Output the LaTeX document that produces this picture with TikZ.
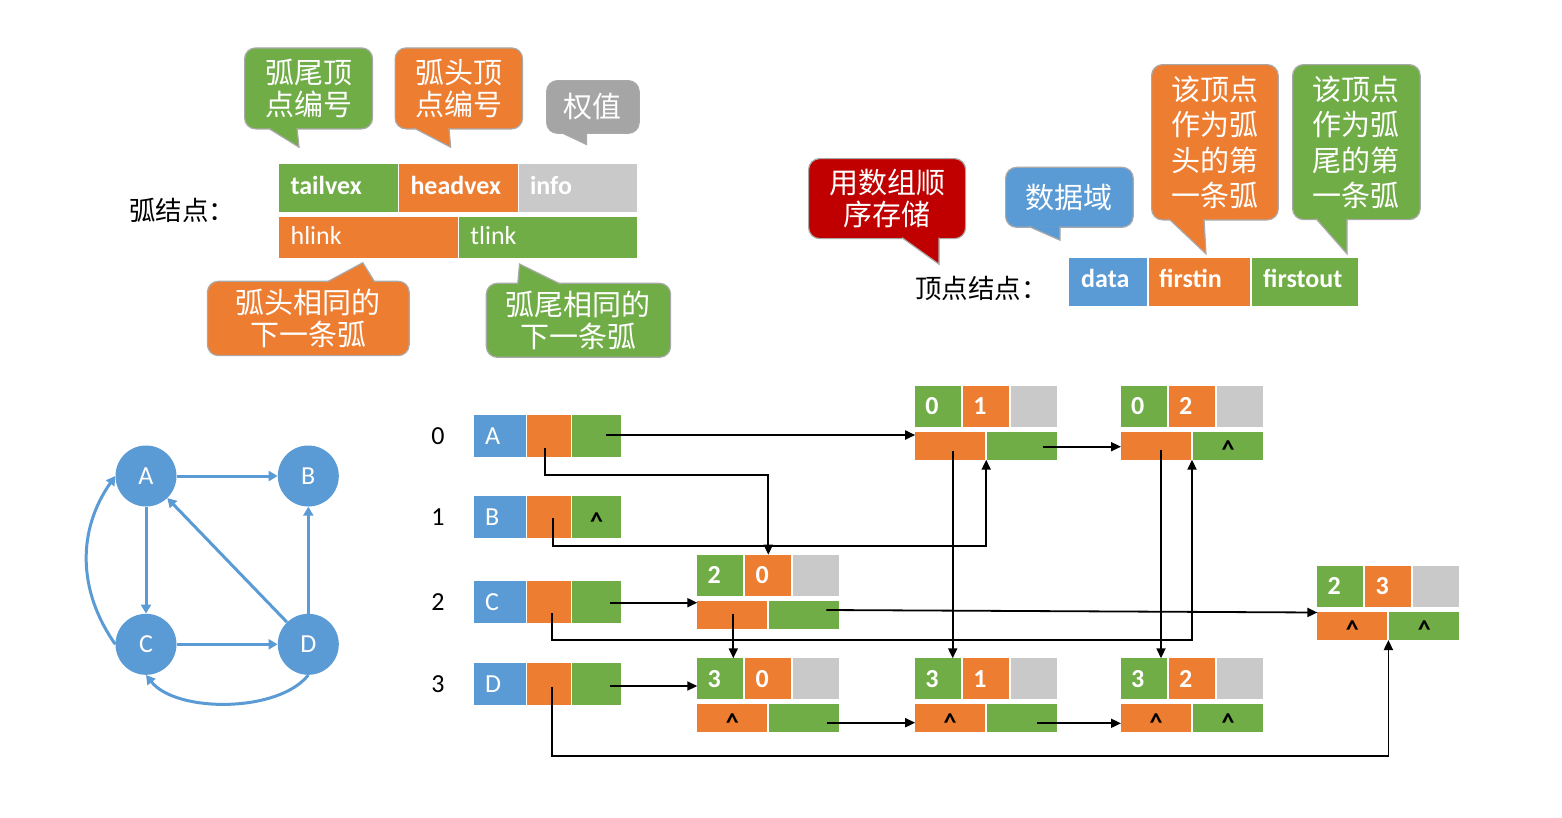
\documentclass[tikz,border=0pt]{standalone}
\usepackage{fontspec}
\setmainfont{Carlito}
\newfontfamily\cjk{Noto Sans CJK SC}
\usetikzlibrary{calc,arrows.meta}

\definecolor{cblue}{HTML}{5B9BD5}
\definecolor{corange}{HTML}{ED7D31}
\definecolor{cgreen}{HTML}{70AD47}
\definecolor{cgray}{HTML}{C9C9C9}
\definecolor{cdgray}{HTML}{A5A5A5}
\definecolor{cred}{HTML}{C00000}
\definecolor{cborder}{HTML}{A9A9A9}

\tikzset{
  cellbox/.style={draw=none, inner sep=0pt, outer sep=0pt, anchor=north west},
  headtxt/.style={inner sep=0pt, text=white, anchor=base west, font=\fontsize{26}{30}\selectfont\bfseries},
  linktxt/.style={inner sep=0pt, text=white, anchor=base west, font=\fontsize{26}{30}\selectfont},
  listtxt/.style={inner sep=0pt, text=white, anchor=base west, font=\fontsize{26}{30}\selectfont},
  digtxt/.style={inner sep=0pt, text=white, anchor=base west, font=\fontsize{26}{30}\selectfont\bfseries},
  idxtxt/.style={inner sep=0pt, text=black, anchor=base, font=\fontsize{26}{30}\selectfont},
  nultxt/.style={inner sep=0pt, text=black, anchor=center, font=\fontsize{26}{30}\selectfont\bfseries},
  cjklabel/.style={inner sep=0pt, text=black, anchor=west, font=\cjk\fontsize{26.5}{30}\selectfont},
  callbox/.style={rounded corners=11pt, draw=cborder, line width=1.2pt, inner sep=0pt,
    text=white, align=center, anchor=north west, font=\cjk\fontsize{29}{32}\selectfont},
  vtx/.style={circle, fill=cblue, minimum size=61pt, inner sep=0pt, text=white,
    font=\fontsize{26}{30}\selectfont},
  gedge/.style={draw=cblue, line width=3pt, -{Triangle[length=9pt,width=10pt]}},
  conn/.style={draw=black, line width=1.8pt, -{Triangle[length=10pt,width=9pt]}}
}

% speech-bubble tail: colour, base point, tip, base point
\newcommand\calltail[4]{%
  \fill[#1] #2 -- #3 -- #4 -- cycle;
  \draw[cborder, line width=1.2pt] #2 -- #3 -- #4;}

% a row of the vertex array: name, top y, index, data, firstout content
\newcommand\vrow[5]{%
  \node[cellbox, fill=cblue, minimum width=52, minimum height=42] (#1d) at (474,#2) {};
  \node[cellbox, fill=corange, minimum width=44, minimum height=42] (#1i) at (527.3,#2) {};
  \node[cellbox, fill=cgreen, minimum width=48.7, minimum height=42] (#1o) at (572.3,#2) {};
  \node[listtxt] (#1l) at ($(#1d.west)+(11,8.3)$) {#4};
  \node[idxtxt] (#1n) at ($(#1d.west)+(-36,8.3)$) {#3};
  \node[nultxt] (#1x) at ($(#1o.center)+(0,4)$) {#5};}

% an arc node: name, left x, top y, tailvex, headvex, hlink content, tlink content
\newcommand\arcnode[7]{%
  \node[cellbox, fill=cgreen, minimum width=46, minimum height=41] (#1t) at (#2,#3) {};
  \node[cellbox, fill=corange, minimum width=46, minimum height=41] (#1h) at (#2+48,#3) {};
  \node[cellbox, fill=cgray, minimum width=46, minimum height=41] (#1i) at (#2+96,#3) {};
  \node[cellbox, fill=corange, minimum width=70, minimum height=28] (#1hl) at (#2,#3+46) {};
  \node[cellbox, fill=cgreen, minimum width=70, minimum height=28] (#1tl) at (#2+72,#3+46) {};
  \node[digtxt] (#1tx) at ($(#1t.west)+(10,8.3)$) {#4};
  \node[digtxt] (#1hx) at ($(#1h.west)+(10,8.3)$) {#5};
  \node[nultxt] (#1hlx) at ($(#1hl.center)+(0,4)$) {#6};
  \node[nultxt] (#1tlx) at ($(#1tl.center)+(0,4)$) {#7};}

\newcommand\nul{\char`\^}

\begin{document}
\begin{tikzpicture}[x=1pt,y=-1pt]
\fill[white] (0,0) rectangle (1562,817);
\useasboundingbox (0,0) rectangle (1562,817);

% ---------- arc node layout ----------
\node[cjklabel] (lArc) at (129,210) {弧结点：};
\node[cellbox, fill=cgreen, minimum width=118.1, minimum height=47.4] (fTail) at (279.4,164.3) {};
\node[cellbox, fill=corange, minimum width=118.4, minimum height=47.4] (fHead) at (399.3,164.3) {};
\node[cellbox, fill=cgray, minimum width=118.4, minimum height=47.4] (fInfo) at (518.8,164.3) {};
\node[cellbox, fill=corange, minimum width=178.1, minimum height=40.4] (fHl) at (279.4,217.3) {};
\node[cellbox, fill=cgreen, minimum width=178, minimum height=40.4] (fTl) at (459.2,217.3) {};
\node[headtxt] (tTail) at ($(fTail.west)+(11,6.5)$) {tailvex};
\node[headtxt] (tHead) at ($(fHead.west)+(11,6.5)$) {headvex};
\node[headtxt] (tInfo) at ($(fInfo.west)+(11,6.5)$) {info};
\node[linktxt] (tHl) at ($(fHl.west)+(11,7)$) {hlink};
\node[linktxt] (tTl) at ($(fTl.west)+(11,7)$) {tlink};

\node[callbox, fill=cgreen, minimum width=128, minimum height=81] (cTv) at (244,47.3) {弧尾顶\\点编号};
\calltail{cgreen}{($(cTv.south west)+(24,-1.5)$)}{($(cTv.south west)+(55,17.7)$)}{($(cTv.south west)+(53,-1.5)$)}
\node[callbox, fill=corange, minimum width=127.5, minimum height=81] (cHv) at (394.5,47.3) {弧头顶\\点编号};
\calltail{corange}{($(cHv.south west)+(19.5,-1.5)$)}{($(cHv.south west)+(56.1,17.7)$)}{($(cHv.south west)+(54.5,-1.5)$)}
\node[callbox, fill=cdgray, minimum width=92.6, minimum height=52.7] (cW) at (546,80) {权值};
\calltail{cdgray}{($(cW.south west)+(15,-1.5)$)}{($(cW.south west)+(40.6,10.6)$)}{($(cW.south west)+(40.6,-1.5)$)}
\node[callbox, fill=corange, minimum width=201.8, minimum height=74.3] (cHn) at (206.8,280.7) {弧头相同的\\下一条弧};
\calltail{corange}{($(cHn.north west)+(119.8,1.5)$)}{($(cHn.north west)+(156,-18)$)}{($(cHn.north west)+(168,1.5)$)}
\node[callbox, fill=cgreen, minimum width=184.3, minimum height=74] (cTn) at (485.7,282.7) {弧尾相同的\\下一条弧};
\calltail{cgreen}{($(cTn.north west)+(32,1.5)$)}{($(cTn.north west)+(33.8,-18.7)$)}{($(cTn.north west)+(75.1,1.5)$)}

% ---------- vertex node layout ----------
\node[cjklabel] (lVtx) at (915,288) {顶点结点：};
\node[cellbox, fill=cblue, minimum width=78, minimum height=47.4] (fData) at (1069,258.3) {};
\node[cellbox, fill=corange, minimum width=101, minimum height=47.4] (fIn) at (1149,258.3) {};
\node[cellbox, fill=cgreen, minimum width=106, minimum height=47.4] (fOut) at (1252,258.3) {};
\node[headtxt] (tData) at ($(fData.west)+(12,5.5)$) {data};
\node[headtxt] (tIn) at ($(fIn.west)+(10,5.5)$) {firstin};
\node[headtxt] (tOut) at ($(fOut.west)+(11,5.5)$) {firstout};

\node[callbox, fill=cred, minimum width=157, minimum height=80] (cArr) at (808,158) {用数组顺\\序存储};
\calltail{cred}{($(cArr.south west)+(94,-1.5)$)}{($(cArr.south west)+(131,25)$)}{($(cArr.south west)+(131,-1.5)$)}
\node[callbox, fill=cblue, minimum width=127.6, minimum height=60] (cData) at (1005,166.7) {数据域};
\calltail{cblue}{($(cData.south west)+(23.6,-1.5)$)}{($(cData.south west)+(55,12.3)$)}{($(cData.south west)+(55,-1.5)$)}
\node[callbox, fill=corange, minimum width=126.6, minimum height=155.3,
  font=\cjk\fontsize{29}{35.5}\selectfont] (cIn) at (1151,64) {该顶点\\作为弧\\头的第\\一条弧};
\calltail{corange}{($(cIn.south west)+(18,-1.5)$)}{($(cIn.south west)+(55,33.4)$)}{($(cIn.south west)+(53,-1.5)$)}
\node[callbox, fill=cgreen, minimum width=127.6, minimum height=155,
  font=\cjk\fontsize{29}{35.5}\selectfont] (cOut) at (1292,64) {该顶点\\作为弧\\尾的第\\一条弧};
\calltail{cgreen}{($(cOut.south west)+(24,-1.5)$)}{($(cOut.south west)+(55,33.7)$)}{($(cOut.south west)+(55,-1.5)$)}

% ---------- the directed graph ----------
\node[vtx] (gA) at (146,476) {A};
\node[vtx] (gB) at (308.3,476) {B};
\node[vtx] (gC) at (146,644.3) {C};
\node[vtx] (gD) at (308.3,644.3) {D};
\draw[gedge] (gA) -- (gB);
\draw[gedge] (gA) -- (gC);
\draw[gedge] (gC) -- (gD);
\draw[gedge] (gD) -- (gB);
\draw[gedge] (gD) -- (gA);
\draw[gedge] (gC.west) .. controls +(-38,-54) and +(-38,54) .. (gA.west);
\draw[gedge] (gD.south) .. controls +(-30,38) and +(30,38) .. (gC.south);

% ---------- orthogonal list ----------
\vrow{rA}{415}{0}{A}{}
\vrow{rB}{496.3}{1}{B}{\nul}
\vrow{rC}{581}{2}{C}{}
\vrow{rD}{662.7}{3}{D}{}

\arcnode{n01}{915.2}{385.7}{0}{1}{}{}
\arcnode{n02}{1121}{385.7}{0}{2}{}{\nul}
\arcnode{n20}{697.3}{554.7}{2}{0}{}{}
\arcnode{n23}{1317.4}{566}{2}{3}{\nul}{\nul}
\arcnode{n30}{697.3}{658.3}{3}{0}{\nul}{}
\arcnode{n31}{915.2}{658.3}{3}{1}{\nul}{}
\arcnode{n32}{1121}{658.3}{3}{2}{\nul}{\nul}

% start points of the pointers
\coordinate (sAo) at ($(rAo.center)+(9,-1)$);
\coordinate (sCo) at ($(rCo.center)+(13,0.7)$);
\coordinate (sDo) at ($(rDo.center)+(13,2.3)$);
\coordinate (s20h) at ($(n20hl.center)+(1,-1)$);
\coordinate (s20t) at ($(n20tl.center)+(22,-4.7)$);
\coordinate (s30t) at ($(n30tl.center)+(23,4.4)$);
\coordinate (s01h) at ($(n01hl.center)+(2.5,5)$);
\coordinate (s01t) at ($(n01tl.center)+(21,1)$);
\coordinate (s02h) at ($(n02hl.center)+(5,4)$);
\coordinate (s31t) at ($(n31tl.center)+(15,5)$);
\coordinate (m01) at ($(n01hl.south east)!0.5!(n01tl.south west)$);
\coordinate (m02) at ($(n02hl.south east)!0.5!(n02tl.south west)$);
\coordinate (m23) at ($(n23hl.south east)!0.5!(n23tl.south west)$);

% firstout pointers
\draw[conn] (sAo) -- (sAo -| n01hl.west);
\draw[conn] (sCo) -- (sCo -| n20hl.west);
\draw[conn] (sDo) -- (sDo -| n30t.west);
% firstin pointers
\draw[conn] ($(rAi.center)+(-4,12)$) -- ++(0,27) -| (n20h.north);
\draw[conn] ($(rBi.center)+(4,1)$) -- ++(0,27.7) -| (m01);
\draw[conn] ($(rCi.center)+(3,11)$) -- ++(0,27) -| (m02);
\draw[conn] ($(rDi.center)+(3,3)$) -- ++(0,69) -| (m23);
% hlink / tlink pointers
\draw[conn] (s20h) -- (s20h |- n30t.north);
\draw[conn] (s20t) -- ($(n23hl.north west)+(0,0.5)$);
\draw[conn] (s30t) -- (s30t -| n31hl.west);
\draw[conn] (s01h) -- (s01h |- n31t.north);
\draw[conn] (s01t) -- (s01t -| n02hl.west);
\draw[conn] (s02h) -- (s02h |- n32t.north);
\draw[conn] (s31t) -- (s31t -| n32hl.west);
\end{tikzpicture}
\end{document}
